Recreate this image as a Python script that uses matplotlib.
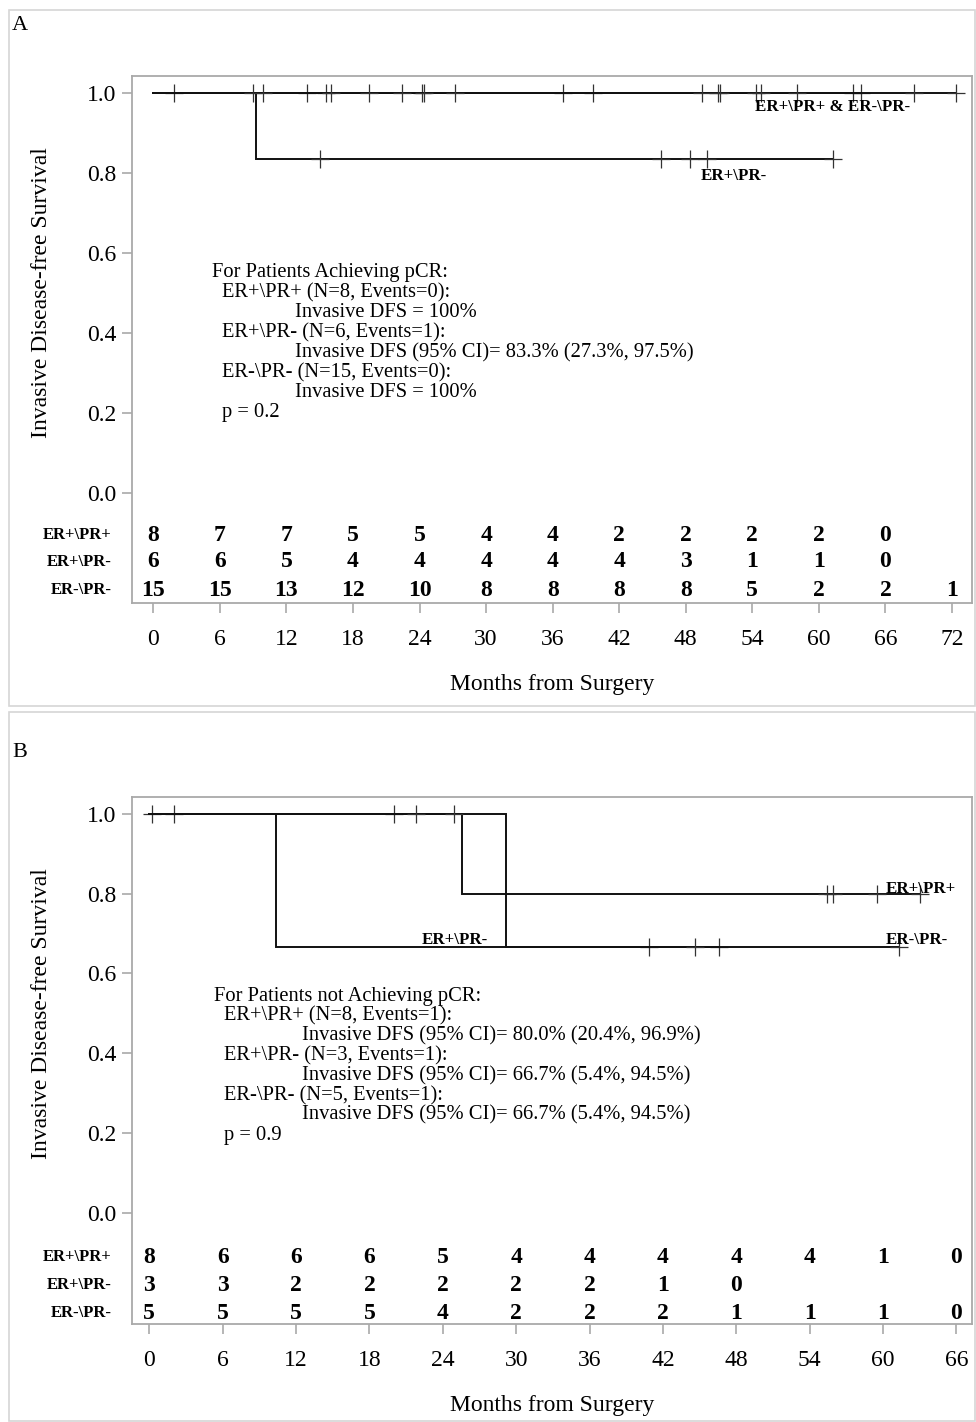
import matplotlib
matplotlib.use("Agg")
import matplotlib.pyplot as plt
from matplotlib.patches import Rectangle
import numpy as np

plt.rcParams['font.family'] = ['Liberation Serif', 'DejaVu Serif']

W, H = 976, 1422

# ---------------- data ----------------
groups = ["ER+\\PR+", "ER+\\PR-", "ER-\\PR-"]

# Panel A (pCR) : follow-up times (months) and event flags (1 = event, 0 = censored)
A_pp_time = [1.9, 13.9, 15.6, 24.2, 36.9, 39.6, 63.1, 63.75]
A_pp_event = [0, 0, 0, 0, 0, 0, 0, 0]
A_pm_time = [9.26, 15.0, 45.8, 48.4, 49.9, 61.3]
A_pm_event = [1, 0, 0, 0, 0, 0]
A_mm_time = [9.0, 9.9, 16.0, 19.4, 22.4, 24.4, 27.2, 49.5, 50.9, 51.1,
             54.3, 54.8, 58.0, 68.6, 72.4]
A_mm_event = [0] * 15

A_ticks = [0, 6, 12, 18, 24, 30, 36, 42, 48, 54, 60, 66, 72]
A_risk_pp = [8, 7, 7, 5, 5, 4, 4, 2, 2, 2, 2, 0]
A_risk_pm = [6, 6, 5, 4, 4, 4, 4, 4, 3, 1, 1, 0]
A_risk_mm = [15, 15, 13, 12, 10, 8, 8, 8, 8, 5, 2, 2, 1]

# Panel B (no pCR)
B_pp_time = [0.2, 2.0, 20.0, 25.6, 55.4, 55.9, 59.5, 63.0]
B_pp_event = [0, 0, 0, 1, 0, 0, 0, 0]
B_pm_time = [10.33, 40.9, 46.6]
B_pm_event = [1, 0, 0]
B_mm_time = [21.8, 24.9, 29.2, 44.6, 61.3]
B_mm_event = [0, 0, 1, 0, 0]

B_ticks = [0, 6, 12, 18, 24, 30, 36, 42, 48, 54, 60, 66]
B_risk_pp = [8, 6, 6, 6, 5, 4, 4, 4, 4, 4, 1, 0]
B_risk_pm = [3, 3, 2, 2, 2, 2, 2, 1, 0]
B_risk_mm = [5, 5, 5, 5, 4, 2, 2, 2, 1, 1, 1, 0]

y_ticks = [0.0, 0.2, 0.4, 0.6, 0.8, 1.0]

A_text = ["For Patients Achieving pCR:",
          "ER+\\PR+ (N=8, Events=0):",
          "Invasive DFS = 100%",
          "ER+\\PR- (N=6, Events=1):",
          "Invasive DFS (95% CI)= 83.3% (27.3%, 97.5%)",
          "ER-\\PR- (N=15, Events=0):",
          "Invasive DFS = 100%",
          "p = 0.2"]
B_text = ["For Patients not Achieving pCR:",
          "ER+\\PR+ (N=8, Events=1):",
          "Invasive DFS (95% CI)= 80.0% (20.4%, 96.9%)",
          "ER+\\PR- (N=3, Events=1):",
          "Invasive DFS (95% CI)= 66.7% (5.4%, 94.5%)",
          "ER-\\PR- (N=5, Events=1):",
          "Invasive DFS (95% CI)= 66.7% (5.4%, 94.5%)",
          "p = 0.9"]

# ---------------- helpers ----------------
FRAME = "#a9a9a9"
LINE = "#111111"


def km(times, events):
    order = np.argsort(times, kind="stable")
    t = np.asarray(times, float)[order]
    e = np.asarray(events, int)[order]
    n = len(t)
    s = 1.0
    xs, ys = [0.0], [1.0]
    cx, cy = [], []
    for i, (ti, ei) in enumerate(zip(t, e)):
        at_risk = n - i
        if ei == 1:
            s = s * (at_risk - 1) / at_risk
            xs.append(ti)
            ys.append(s)
        else:
            cx.append(ti)
            cy.append(s)
    xs.append(t[-1])
    ys.append(s)
    return xs, ys, cx, cy


def fx(px):
    return px / W


def fy(py):
    return 1 - py / H


def fig_text(fig, px, py, s, **kw):
    fig.text(fx(px), fy(py), s, **kw)


fig = plt.figure(figsize=(W / 100, H / 100), dpi=100)

# outer panel boxes
for (x0, y0, x1, y1) in [(9, 10, 975, 706), (9, 712, 975, 1421)]:
    fig.patches.append(Rectangle((fx(x0), fy(y1)), fx(x1) - fx(x0), fy(y0) - fy(y1),
                                 transform=fig.transFigure, fill=False,
                                 edgecolor="#d6d6d6", linewidth=1.2))


def make_panel(box, xlim, ylim, ticks, curves, risks, risk_y, text_lines, text_pos,
               curve_labels, letter, letter_pos):
    left, top, right, bottom = box
    ax = fig.add_axes([fx(left), fy(bottom), fx(right) - fx(left), fy(top) - fy(bottom)])
    ax.set_xlim(*xlim)
    ax.set_ylim(*ylim)
    for sp in ax.spines.values():
        sp.set_color(FRAME)
        sp.set_linewidth(1.3)
    ax.set_xticks(ticks)
    ax.set_xticklabels([str(t) for t in ticks], fontsize=17)
    ax.set_yticks(y_ticks)
    ax.set_yticklabels([f"{v:.1f}" for v in y_ticks], fontsize=17)
    ax.tick_params(axis="both", direction="out", length=7.5, width=1.2, color=FRAME)
    ax.tick_params(axis="x", pad=11)
    ax.tick_params(axis="y", pad=4)

    for (t, e) in curves:
        xs, ys, cx, cy = km(t, e)
        ax.step(xs, ys, where="post", color=LINE, linewidth=1.4, solid_joinstyle="miter")
        ax.plot(cx, cy, linestyle="none", marker="+", markersize=13,
                markeredgewidth=0.9, color="#333333")

    width_px = right - left
    for r, (vals, yv) in enumerate(zip(risks, risk_y)):
        for t, v in zip(ticks, vals):
            ax.text(t, yv, str(v), ha="center", va="center", fontsize=17,
                    fontweight="bold")
        ax.text((112 - left) / width_px, yv, groups[r], transform=ax.get_yaxis_transform(),
                ha="right", va="center", fontsize=12, fontweight="bold")

    # axis labels
    ax.text((42 - left) / width_px, 0.5, "Invasive Disease-free Survival",
            transform=ax.get_yaxis_transform(), rotation=90, ha="center",
            va="center", fontsize=17)
    fig_text(fig, (left + right) / 2, bottom + 87, "Months from Surgery",
             ha="center", va="baseline", fontsize=17)

    (x0, x1, x2, ybase, dy) = text_pos
    xs_line = [x0, x1, x2, x1, x2, x1, x2, x1]
    for i, (s, xp) in enumerate(zip(text_lines, xs_line)):
        fig_text(fig, xp, ybase + i * dy, s, ha="left", va="baseline", fontsize=14.8)

    for (s, px, py) in curve_labels:
        fig_text(fig, px, py, s, ha="left", va="baseline", fontsize=12.2,
                 fontweight="bold")

    fig_text(fig, letter_pos[0], letter_pos[1], letter, ha="left", va="baseline",
             fontsize=16)
    return ax


# Panel A
make_panel(box=(132, 75.7, 972, 603),
           xlim=(-1.92, 73.8), ylim=(-0.276, 1.0425),
           ticks=A_ticks,
           curves=[(A_pp_time, A_pp_event), (A_pm_time, A_pm_event), (A_mm_time, A_mm_event)],
           risks=[A_risk_pp, A_risk_pm, A_risk_mm],
           risk_y=[-0.106, -0.173, -0.244],
           text_lines=A_text,
           text_pos=(212, 222, 295, 277.5, 19.9),
           curve_labels=[("ER+\\PR+ & ER-\\PR-", 755, 110.7), ("ER+\\PR-", 701, 180)],
           letter="A", letter_pos=(12, 30))

# Panel B
make_panel(box=(132.3, 796.7, 972, 1324),
           xlim=(-1.39, 67.27), ylim=(-0.279, 1.043),
           ticks=B_ticks,
           curves=[(B_pp_time, B_pp_event), (B_pm_time, B_pm_event), (B_mm_time, B_mm_event)],
           risks=[B_risk_pp, B_risk_pm, B_risk_mm],
           risk_y=[-0.112, -0.182, -0.252],
           text_lines=B_text,
           text_pos=(214, 224, 302, 1000.5, 19.9),
           curve_labels=[("ER+\\PR+", 885.7, 892.7), ("ER-\\PR-", 885.7, 944),
                         ("ER+\\PR-", 422, 944)],
           letter="B", letter_pos=(12, 757))

fig.savefig("out.png", dpi=100)
